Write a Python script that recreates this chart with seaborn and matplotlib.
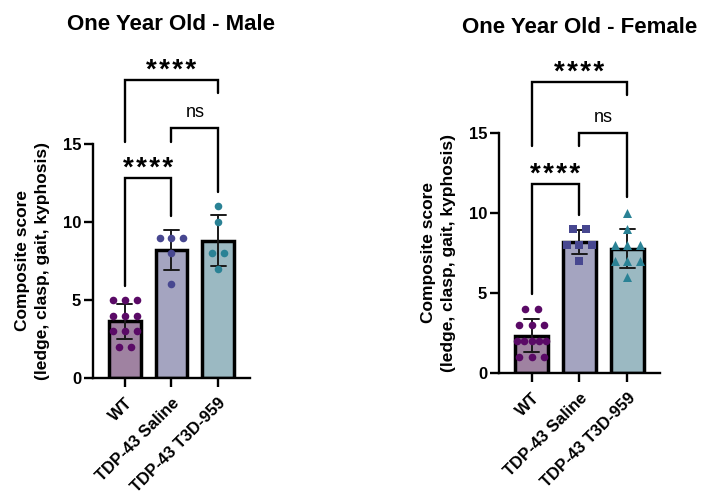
import numpy as np
import pandas as pd
import matplotlib.pyplot as plt
import seaborn as sns

# groups shown on the x axis
groups = ['WT', 'TDP-43 Saline', 'TDP-43 T3D-959']

# composite scores
male_wt = [5, 5, 5, 4, 4, 4, 3, 3, 3, 2, 2]
male_saline = [9, 9, 9, 8, 6]
male_t3d = [11, 10, 8, 8, 7]

female_wt = [4, 4, 3, 3, 3, 2, 2, 2, 2, 2, 1, 1, 1]
female_saline = [9, 9, 8, 8, 8, 7]
female_t3d = [10, 9, 8, 8, 8, 7, 7, 7, 6]

# brackets: left group, right group, height, left leg end, right leg end, label
stars = '\u200a'.join('****')
male_brackets = [(0, 1, 12.8, 5.9, 10.4, stars),
                 (1, 2, 16.0, 15.1, 11.9, 'ns'),
                 (0, 2, 19.1, 15.1, 18.3, stars)]
female_brackets = [(0, 1, 11.8, 4.9, 9.9, stars),
                   (1, 2, 15.0, 14.2, 11.0, 'ns'),
                   (0, 2, 18.2, 14.2, 17.4, stars)]

bar_colors = ['#a47da6', '#9fa0c5', '#94bdc8']
dot_colors = ['#5a0a66', '#474790', '#2a8295']
marker_sizes = {'o': 30, 's': 36, '^': 42}

sns.set_style('ticks')
plt.rcParams['font.family'] = ['Liberation Sans', 'DejaVu Sans']
plt.rcParams.update({'text.color': 'black', 'axes.labelcolor': 'black',
                     'xtick.color': 'black', 'ytick.color': 'black',
                     'axes.edgecolor': 'black'})


def row_offsets(values, step=0.255, max_width=0.62):
    # spread equal values side by side, like a column scatter
    vals = np.array(values)
    x = np.zeros(len(vals))
    for v in np.unique(vals):
        idx = np.where(vals == v)[0]
        n = len(idx)
        s = step if n < 2 else min(step, max_width / (n - 1))
        x[idx] = (np.arange(n) - (n - 1) / 2) * s
    return x


def draw_panel(ax, data, markers, brackets, title, title_y):
    df = pd.DataFrame({'group': np.repeat(groups, [len(d) for d in data]),
                       'score': np.concatenate(data)})
    sns.barplot(data=df, x='group', y='score', hue='group', palette=bar_colors,
                errorbar='sd', capsize=0.32, width=0.68, edgecolor='black',
                linewidth=2.5, err_kws={'color': '#1a1a1a', 'linewidth': 1.4},
                legend=False, ax=ax)
    for i, vals in enumerate(data):
        ax.scatter(i + row_offsets(vals), vals, s=marker_sizes[markers[i]],
                   marker=markers[i], color=dot_colors[i], linewidths=0,
                   zorder=5)

    for a, b, y, la, lb, label in brackets:
        ax.plot([a, a, b, b], [la, y, y, lb], color='black', lw=1.7,
                clip_on=False, solid_joinstyle='miter')
        if label == 'ns':
            ax.text((a + b) / 2, y + 1.0, label, ha='center', va='center',
                    fontsize=13)
        else:
            ax.text((a + b) / 2, y + 0.6, label, ha='center', va='center',
                    fontsize=20, fontweight='bold')

    ax.set_xlim(-0.68, 2.68)
    ax.set_ylim(0, 15)
    ax.set_yticks([0, 5, 10, 15])
    ax.set_xlabel('')
    ax.set_ylabel('Composite score\n(ledge, clasp, gait, kyphosis)',
                  fontsize=12.5, fontweight='bold', labelpad=9, linespacing=1.45)
    ax.set_title(title, fontsize=16, fontweight='bold', y=title_y, va='center')
    sns.despine(ax=ax)
    for s in ['left', 'bottom']:
        ax.spines[s].set_linewidth(1.7)
    ax.tick_params(axis='both', width=1.7, length=6.5, labelsize=12, pad=2)
    ax.tick_params(axis='x', pad=6)
    for lab in ax.get_yticklabels():
        lab.set_fontweight('bold')
    ax.set_xticks(range(len(groups)))
    ax.set_xticklabels(groups, rotation=45, ha='right', rotation_mode='anchor',
                       fontweight='bold')


fig = plt.figure(figsize=(7.07, 4.96), dpi=100)
ax1 = fig.add_axes([0.1315, 0.2379, 0.222, 0.4718])
ax2 = fig.add_axes([0.7058, 0.2486, 0.2277, 0.4827])

draw_panel(ax1, [male_wt, male_saline, male_t3d], ['o', 'o', 'o'],
           male_brackets, 'One Year Old - Male', 1.477)
draw_panel(ax2, [female_wt, female_saline, female_t3d], ['o', 's', '^'],
           female_brackets, 'One Year Old - Female', 1.408)

fig.savefig('out.png', dpi=100)
